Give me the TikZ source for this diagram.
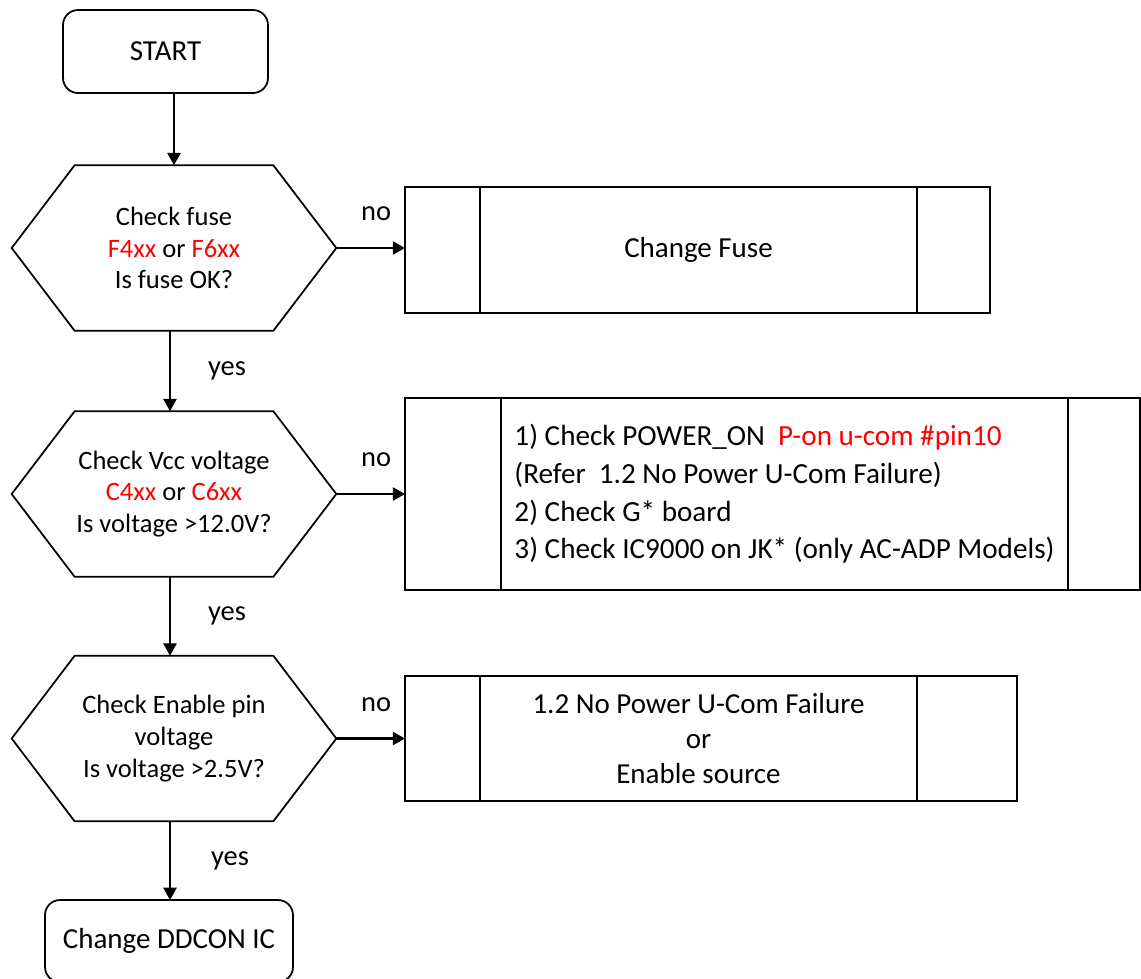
\documentclass[tikz,border=0pt]{standalone}
\usepackage{fontspec}
\setmainfont{Carlito}
\usetikzlibrary{arrows.meta,positioning,calc}
\definecolor{partred}{RGB}{255,0,0}
\newcommand{\partno}[1]{\textcolor{partred}{#1}}

\begin{document}
\begin{tikzpicture}[
    x=0.02cm, y=-0.02cm,
    font=\fontsize{16.5}{20}\selectfont,
    term/.style={rectangle, draw, line width=1pt, rounded corners=0.3cm,
                 align=center, outer sep=0pt},
    decision/.style={rectangle, minimum width=6.48cm, minimum height=3.3cm,
                     inner sep=0pt, align=center,
                     font=\fontsize{15.1}{18}\selectfont},
    hexline/.style={line width=1pt, line join=miter},
    fix/.style={rectangle, draw, line width=1pt, inner sep=0pt, outer sep=0pt},
    side/.style={rectangle, draw, line width=1pt, inner sep=0pt, outer sep=0pt},
    arr/.style={-{Triangle[length=7pt, width=7.5pt]}, line width=1.2pt},
    lbl/.style={inner sep=0pt, font=\fontsize{16.2}{20}\selectfont}
]
\useasboundingbox (0,0) rectangle (1141,978);

% Start and end
\node[term, minimum width=4.1cm, minimum height=1.66cm] (start) at (165.5,51.5) {START};
\node[term, minimum width=4.96cm, minimum height=1.64cm] (done) at (169,941) {Change DDCON IC};

% Decisions
\node[decision] (fuse) at (174,248) {Check fuse\\\partno{F4xx} or \partno{F6xx}\\Is fuse OK?};
\node[decision] (vcc) at (174,494) {Check Vcc voltage\\\partno{C4xx} or \partno{C6xx}\\Is voltage >12.0V?};
\node[decision] (enable) at (174,738.5) {Check Enable pin\\voltage\\Is voltage >2.5V?};

\foreach \q in {fuse,vcc,enable}
  \draw[hexline] (\q.west) -- ($(\q.north west)+(63,0)$) -- ($(\q.north east)+(-63,0)$)
    -- (\q.east) -- ($(\q.south east)+(-63,0)$) -- ($(\q.south west)+(63,0)$) -- cycle;

% Fixes
\node[fix, minimum width=8.74cm, minimum height=2.52cm] (fuseFix) at (698.5,250) {Change Fuse};
\node[side, minimum width=1.5cm, minimum height=2.52cm, left=0pt of fuseFix] (fuseL) {};
\node[side, minimum width=1.46cm, minimum height=2.52cm, right=0pt of fuseFix] (fuseR) {};

\node[fix, minimum width=11.34cm, minimum height=3.84cm, align=left,
      font=\fontsize{16.6}{21.4}\selectfont] (vccFix) at (784.5,494)
  {1) Check POWER\_ON\ \ \partno{P-on u-com \#pin10}\\
   (Refer\ \ 1.2 No Power U-Com Failure)\\
   2) Check G* board\\
   3) Check IC9000 on JK* (only AC-ADP Models)};
\node[side, minimum width=1.92cm, minimum height=3.84cm, left=0pt of vccFix] (vccL) {};
\node[side, minimum width=1.44cm, minimum height=3.84cm, right=0pt of vccFix] (vccR) {};

\node[fix, minimum width=8.74cm, minimum height=2.5cm, align=center,
      font=\fontsize{16.5}{19.9}\selectfont] (enableFix) at (698.5,738.5)
  {1.2 No Power U-Com Failure\\or\\Enable source};
\node[side, minimum width=1.5cm, minimum height=2.5cm, left=0pt of enableFix] (enableL) {};
\node[side, minimum width=2cm, minimum height=2.5cm, right=0pt of enableFix] (enableR) {};

% Arrows
\draw[arr] (start.south -| fuse.north) -- (fuse.north);
\draw[arr] ([xshift=-0.08cm]fuse.south) -- node[lbl, right=0.74cm] {yes} ([xshift=-0.08cm]vcc.north);
\draw[arr] ([xshift=-0.08cm]vcc.south) -- node[lbl, right=0.74cm] {yes} ([xshift=-0.08cm]enable.north);
\draw[arr] ([xshift=-0.08cm]enable.south) -- node[lbl, right=0.8cm] {yes} ([xshift=-0.08cm]enable.south |- done.north);
\draw[arr] (fuse.east) -- node[lbl, above=0.52cm, pos=0.58] {no} (fuse.east -| fuseL.west);
\draw[arr] (vcc.east) -- node[lbl, above=0.52cm, pos=0.58] {no} (vcc.east -| vccL.west);
\draw[arr] (enable.east) -- node[lbl, above=0.52cm, pos=0.58] {no} (enable.east -| enableL.west);
\end{tikzpicture}
\end{document}
